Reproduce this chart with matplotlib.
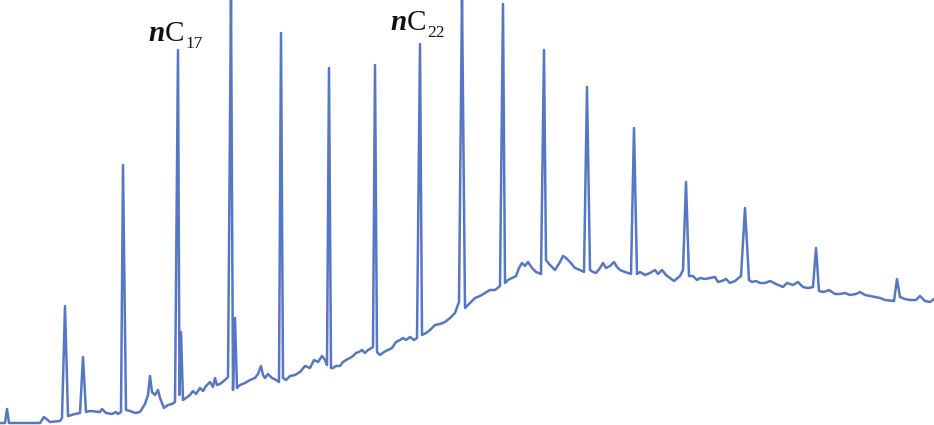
import matplotlib
matplotlib.use('Agg')
import matplotlib.pyplot as plt

# 色谱图 (GC trace), no axes shown
plt.rcParams['mathtext.fontset'] = 'custom'
plt.rcParams['mathtext.rm'] = 'Liberation Serif'
plt.rcParams['mathtext.it'] = 'Liberation Serif:italic:bold'

# retention position and detector signal
rt = [0, 5, 7, 9, 40, 44, 50, 60, 62, 65, 68, 75, 80, 83, 86, 90, 100, 102, 106, 112,
      116, 118, 121, 123, 126, 130, 135, 140, 145, 148, 150, 152, 155, 158, 160, 164,
      168, 172, 175, 178, 179.5, 181, 183, 186, 190, 193, 196, 200, 203, 206, 210, 213,
      215, 217, 220, 225, 228, 231, 233, 235, 237, 240, 245, 250, 255, 258, 261, 263,
      265, 268, 272, 276, 279, 281, 283, 286, 290, 295, 300, 305, 310, 314, 318, 322,
      325, 327, 329, 331, 333, 336, 340, 343, 346, 350, 353, 356, 359, 362, 365, 368,
      370, 373, 375, 377, 380, 384, 388, 392, 396, 400, 403, 406, 410, 414, 417, 420,
      422, 426, 430, 435, 440, 445, 450, 455, 459, 462, 465, 470, 475, 480, 485, 490,
      495, 500, 503, 505, 508, 512, 516, 519, 522, 525, 528, 532, 536, 541, 544, 546,
      550, 555, 560, 563, 566, 570, 575, 580, 584, 587, 590, 593, 596, 600, 603, 606,
      610, 614, 617, 620, 625, 631, 634, 637, 640, 645, 650, 655, 658, 662, 666, 670,
      674, 680, 683, 686, 689, 693, 697, 700, 705, 710, 715, 718, 722, 726, 730, 735,
      741, 745, 749, 752, 756, 760, 765, 770, 776, 783, 787, 793, 798, 803, 808, 813,
      816, 819, 824, 829, 835, 840, 845, 850, 856, 860, 865, 870, 875, 880, 885, 894,
      897, 900, 905, 910, 916, 920, 925, 930, 934]
signal = [2, 2, 16, 2, 2, 8, 3, 4, 7, 119, 9, 11, 12, 68, 13, 14, 13, 16, 12, 11,
          13, 11, 13, 260, 15, 14, 12, 13, 21, 30, 49, 33, 30, 35, 27, 17,
          20, 21, 23, 375, 30, 93, 25, 27, 30, 34, 31, 37, 34, 39, 43, 38,
          47, 40, 41, 45, 48, 430, 35, 107, 37, 40, 42, 45, 47, 51, 59, 50,
          47, 51, 47, 45, 43, 392, 47, 45, 49, 50, 53, 59, 57, 65, 63, 69,
          65, 60, 357, 57, 57, 59, 59, 63, 65, 67, 69, 72, 73, 75, 72, 75,
          76, 78, 360, 73, 70, 73, 75, 77, 83, 85, 87, 85, 88, 85, 87, 381,
          90, 92, 95, 100, 101, 103, 107, 112, 123, 430, 117, 122, 127, 129, 132, 135,
          135, 139, 421, 142, 145, 147, 149, 157, 162, 159, 163, 157, 153, 151, 375, 165,
          160, 155, 163, 169, 167, 163, 157, 155, 153, 338, 155, 153, 152, 157, 162, 157,
          159, 163, 158, 155, 153, 151, 297, 151, 153, 150, 152, 155, 151, 155, 150, 147,
          144, 149, 155, 243, 149, 149, 145, 147, 146, 147, 148, 143, 144, 146, 142, 144,
          149, 217, 145, 143, 144, 142, 142, 144, 141, 138, 142, 140, 143, 138, 137, 138,
          177, 134, 133, 135, 131, 131, 132, 130, 131, 133, 130, 129, 128, 127, 125, 124,
          146, 128, 126, 125, 125, 129, 124, 123, 126]

# peak labels
label_carbon = ['17', '22']
label_rt = [148, 390]
label_signal = [384, 395]

fig = plt.figure(figsize=(9.34, 4.25), dpi=100)
ax = fig.add_axes([0, 0, 1, 1])
ax.plot(rt, signal, color='#5677C4', linewidth=1.8, solid_joinstyle='round')

for c, x, y in zip(label_carbon, label_rt, label_signal):
    t = ax.text(x, y, r'$\mathit{n}\mathrm{C}$', fontsize=21, color='#111111',
                ha='left', va='baseline')
    # 下标
    ax.annotate(c, xy=(1, 0), xycoords=t, xytext=(1, -0.5), textcoords='offset points',
                fontsize=12.5, family='Liberation Serif', color='#111111',
                ha='left', va='baseline')

ax.set_xlim(0, 934)
ax.set_ylim(0, 425)
ax.axis('off')

fig.savefig('out.png', dpi=100)
